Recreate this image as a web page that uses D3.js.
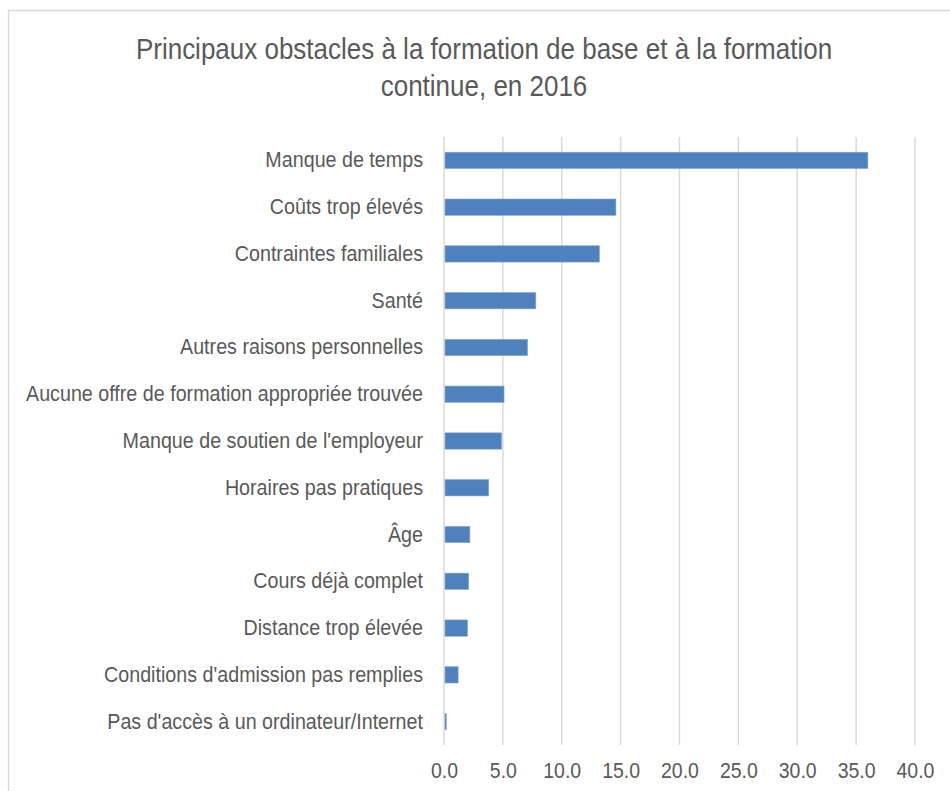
<!DOCTYPE html>
<html lang="fr">
<head>
    <meta charset="UTF-8">
    <script src="https://d3js.org/d3.v7.min.js"></script>
    <style>
        body { margin: 0; background: #fff; }
        text { font-family: "Liberation Sans", Arial, sans-serif; fill: #595959; }
    </style>
</head>
<body>

<svg width="950" height="791"></svg>

<script>
    // data (percentages)
    var categories = [
        "Manque de temps",
        "Coûts trop élevés",
        "Contraintes familiales",
        "Santé",
        "Autres raisons personnelles",
        "Aucune offre de formation appropriée trouvée",
        "Manque de soutien de l'employeur",
        "Horaires pas pratiques",
        "Âge",
        "Cours déjà complet",
        "Distance trop élevée",
        "Conditions d'admission pas remplies",
        "Pas d'accès à un ordinateur/Internet"
    ];
    var values = [36.0, 14.6, 13.2, 7.8, 7.1, 5.1, 4.9, 3.8, 2.2, 2.1, 2.0, 1.2, 0.2];
    var xTicks = [0, 5, 10, 15, 20, 25, 30, 35, 40];
    var titleLines = ["Principaux obstacles à la formation de base et à la formation", "continue, en 2016"];

    var stretch = 1.15; // the reference text is slightly taller than plain Arial

    var svg = d3.select("svg");

    // chart frame (only top and left edges are visible)
    svg.append("path")
        .attr("d", "M8.5,791 V10.5 H950")
        .attr("fill", "none")
        .attr("stroke", "#d9d9d9")
        .attr("stroke-width", 1.5);

    var plot = {left: 444, right: 915, top: 137, bottom: 745};

    var x = d3.scaleLinear().domain([0, 40]).range([plot.left, plot.right]);
    var y = d3.scaleBand().domain(categories).range([plot.top, plot.bottom])
        .paddingInner(0.65).paddingOuter(0.325);

    // title
    svg.append("text")
        .attr("transform", "translate(484,59) scale(1," + stretch + ")")
        .attr("text-anchor", "middle")
        .style("font-size", "26px")
        .selectAll("tspan")
        .data(titleLines)
        .join("tspan")
        .attr("x", 0)
        .attr("y", function(d, i) { return i * 37 / stretch; })
        .text(function(d) { return d; });

    // vertical gridlines
    svg.append("g")
        .selectAll("line")
        .data(xTicks)
        .join("line")
        .attr("x1", function(d) { return x(d); })
        .attr("x2", function(d) { return x(d); })
        .attr("y1", plot.top)
        .attr("y2", plot.bottom)
        .attr("stroke", "#d9d9d9")
        .attr("stroke-width", 1.5);

    // bars
    svg.append("g")
        .selectAll("rect")
        .data(values)
        .join("rect")
        .attr("x", x(0) + 1)
        .attr("y", function(d, i) { return y(categories[i]); })
        .attr("width", function(d) { return Math.max(x(d) - x(0) - 1, 1); })
        .attr("height", y.bandwidth())
        .attr("fill", "#4f81bd")
        .attr("stroke", "#8eaad6")
        .attr("stroke-width", 0.6);

    // category labels
    svg.append("g")
        .selectAll("text")
        .data(categories)
        .join("text")
        .attr("transform", function(d) {
            return "translate(423," + (y(d) + y.bandwidth() / 2) + ") scale(1," + stretch + ")";
        })
        .attr("dy", "0.31em")
        .attr("text-anchor", "end")
        .style("font-size", "19.7px")
        .text(function(d) { return d; });

    // x axis labels
    var xAxis = d3.axisBottom(x)
        .tickValues(xTicks)
        .tickSize(0)
        .tickPadding(15)
        .tickFormat(d3.format(".1f"));

    svg.append("g")
        .attr("transform", "translate(0," + plot.bottom + ")")
        .call(xAxis)
        .call(function(g) { g.select(".domain").remove(); })
        .selectAll("text")
        .attr("transform", "scale(1," + stretch + ")")
        .style("font-family", "\"Liberation Sans\", Arial, sans-serif")
        .style("font-size", "19.5px")
        .attr("fill", "#595959");
</script>

</body>
</html>
